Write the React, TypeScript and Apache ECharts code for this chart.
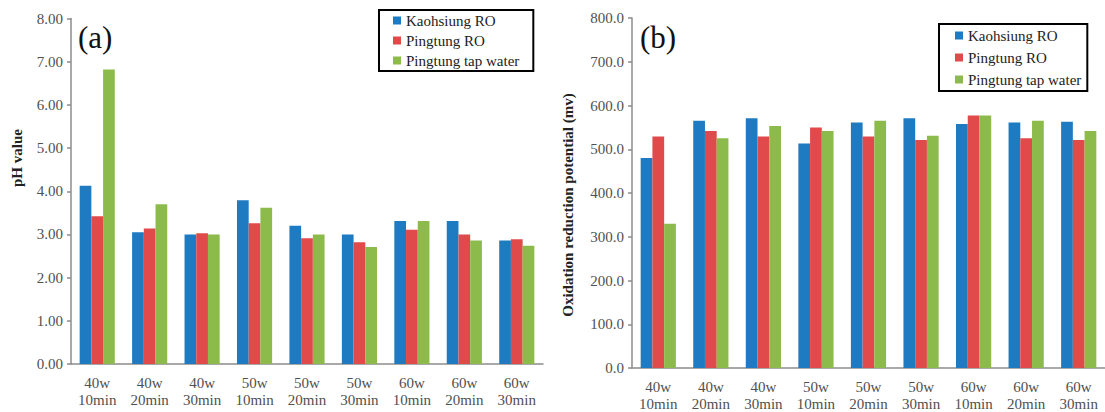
import React, { useEffect, useRef } from "react";
import * as echarts from "echarts";

const categories = [
  "40w\n10min", "40w\n20min", "40w\n30min",
  "50w\n10min", "50w\n20min", "50w\n30min",
  "60w\n10min", "60w\n20min", "60w\n30min",
];
const seriesNames = ["Kaohsiung RO", "Pingtung RO", "Pingtung tap water"];
const seriesColors = ["#1F7BC1", "#E04A4A", "#8CBB4C"];

const phKaohsiung = [4.13, 3.05, 3.0, 3.79, 3.2, 3.0, 3.31, 3.31, 2.86];
const phPingtungRO = [3.42, 3.14, 3.03, 3.26, 2.91, 2.82, 3.11, 3.0, 2.89];
const phPingtungTap = [6.82, 3.7, 3.0, 3.62, 3.0, 2.71, 3.31, 2.86, 2.74];

const orpKaohsiung = [480, 565, 571, 513, 561, 571, 558, 561, 563];
const orpPingtungRO = [529, 542, 529, 550, 529, 521, 577, 525, 521];
const orpPingtungTap = [330, 525, 553, 542, 565, 531, 577, 565, 542];

const phAxis = { min: 0, max: 8, interval: 1, decimals: 2 };
const orpAxis = { min: 0, max: 800, interval: 100, decimals: 1 };

const FONT = "Liberation Serif";
const AXIS_GRAY = "#8C8C8C";
const LABEL_COLOR = "#505050";

export default function App() {
  const ref = useRef<HTMLDivElement>(null);

  useEffect(() => {
    if (!ref.current) return;
    const chart = echarts.init(ref.current, undefined, { renderer: "svg" });

    const xAxisBase = (gridIndex: number) => ({
      type: "category" as const,
      gridIndex,
      data: categories,
      axisLine: { show: true, lineStyle: { color: AXIS_GRAY, width: 1.5 } },
      axisTick: { show: false },
      axisLabel: {
        fontFamily: FONT,
        fontSize: 15,
        color: LABEL_COLOR,
        lineHeight: 17,
        margin: 10,
        interval: 0,
      },
      splitLine: { show: false },
    });

    const yAxisBase = (gridIndex: number, ax: typeof phAxis) => ({
      type: "value" as const,
      gridIndex,
      min: ax.min,
      max: ax.max,
      interval: ax.interval,
      axisLine: { show: true, lineStyle: { color: AXIS_GRAY, width: 1.5 } },
      axisTick: { show: true, length: 4, lineStyle: { color: AXIS_GRAY, width: 1.5 } },
      axisLabel: {
        fontFamily: FONT,
        fontSize: 15,
        color: LABEL_COLOR,
        margin: 8,
        formatter: (v: number) => v.toFixed(ax.decimals),
      },
      splitLine: { show: false },
    });

    const phData = [phKaohsiung, phPingtungRO, phPingtungTap];
    const orpData = [orpKaohsiung, orpPingtungRO, orpPingtungTap];

    const mkSeries = (data: number[][], idx: number) =>
      data.map((d, i) => ({
        name: seriesNames[i],
        type: "bar" as const,
        xAxisIndex: idx,
        yAxisIndex: idx,
        data: d,
        barGap: "0%",
        barCategoryGap: "33%",
        itemStyle: { color: seriesColors[i] },
      }));

    const legendBase = {
      orient: "vertical" as const,
      data: seriesNames,
      icon: "rect",
      itemWidth: 8,
      itemHeight: 8,
      itemGap: 5,
      borderColor: "#000",
      borderWidth: 2,
      backgroundColor: "#fff",
      textStyle: { fontFamily: FONT, fontSize: 15, color: "#222" },
      selectedMode: false,
    };

    chart.setOption({
      animation: false,
      backgroundColor: "#fff",
      textStyle: { fontFamily: FONT },
      color: seriesColors,
      grid: [
        { left: 71, top: 18.5, width: 472, height: 345.5 },
        { left: 632, top: 18, width: 478, height: 352 },
      ],
      xAxis: [xAxisBase(0), xAxisBase(1)],
      yAxis: [yAxisBase(0, phAxis), yAxisBase(1, orpAxis)],
      legend: [
        { ...legendBase, left: 379, top: 10, padding: [3, 14, 3, 14] },
        { ...legendBase, left: 939, top: 24, itemGap: 7, padding: [4, 6, 4, 16] },
      ],
      graphic: [
        {
          type: "text",
          left: 78,
          top: 22,
          style: { text: "(a)", fontFamily: FONT, fontSize: 31, fill: "#111" },
        },
        {
          type: "text",
          left: 640,
          top: 22,
          style: { text: "(b)", fontFamily: FONT, fontSize: 31, fill: "#111" },
        },
        {
          type: "text",
          x: 17,
          y: 158,
          rotation: Math.PI / 2,
          style: {
            text: "pH value",
            fontFamily: FONT,
            fontSize: 15,
            fontWeight: "bold",
            fill: "#222",
            textAlign: "center",
            textVerticalAlign: "middle",
          },
        },
        {
          type: "text",
          x: 568,
          y: 205,
          rotation: Math.PI / 2,
          style: {
            text: "Oxidation reduction potential (mv)",
            fontFamily: FONT,
            fontSize: 15,
            fontWeight: "bold",
            fill: "#222",
            textAlign: "center",
            textVerticalAlign: "middle",
          },
        },
      ],
      series: [...mkSeries(phData, 0), ...mkSeries(orpData, 1)],
    });

    return () => chart.dispose();
  }, []);

  return (
    <div
      ref={ref}
      style={{ position: "fixed", left: 0, top: 0, width: 1105, height: 412 }}
    />
  );
}
